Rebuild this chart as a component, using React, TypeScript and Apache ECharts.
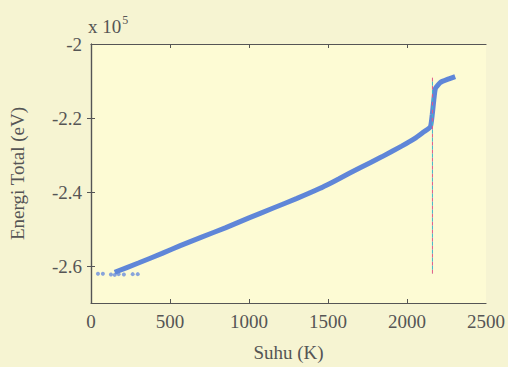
import React, { useEffect, useRef } from "react";
import * as echarts from "echarts";

const xTicks = [0, 500, 1000, 1500, 2000, 2500];
const yTickValues = [-2, -2.2, -2.4, -2.6];

// Temperature (K) and total energy (x 10^5 eV) along the main band
const suhu = [150, 300, 450, 565, 700, 850, 1000, 1150, 1300, 1450, 1570, 1700, 1840, 1966, 2050, 2104, 2148, 2160, 2170, 2180, 2211, 2260, 2305];
const energi = [-2.617, -2.592, -2.566, -2.545, -2.522, -2.497, -2.470, -2.444, -2.418, -2.390, -2.364, -2.335, -2.305, -2.276, -2.255, -2.238, -2.224, -2.190, -2.150, -2.120, -2.104, -2.095, -2.088];

// Scattered early points
const suhuAwal = [44, 75, 126, 150, 175, 208, 264, 296];
const energiAwal = [-2.621, -2.621, -2.623, -2.624, -2.622, -2.623, -2.622, -2.622];

// Vertical marker (melting point)
const suhuLeleh = 2161;
const energiGaris = [-2.091, -2.621];

export default function App() {
  const ref = useRef<HTMLDivElement>(null);
  useEffect(() => {
    document.body.style.margin = "0";
    if (!ref.current) return;
    const chart = echarts.init(ref.current, null, { renderer: "svg" });
    const font = "Liberation Serif";
    const txt = "#555555";
    const axisCommon = {
      axisLine: { show: true, lineStyle: { color: "#555", width: 1.2 } },
      splitLine: { show: false },
    };
    const tick = { show: true, inside: true, length: 4, lineStyle: { color: "#555" } };
    chart.setOption({
      animation: false,
      backgroundColor: "#f6f4d2",
      textStyle: { fontFamily: font },
      grid: { left: 90, right: 20, top: 44, bottom: 60, show: true, backgroundColor: "#fdfbd4", borderWidth: 0 },
      xAxis: [
        {
          type: "value", min: 0, max: 2500, interval: 500,
          name: "Suhu (K)", nameLocation: "middle", nameGap: 40,
          nameTextStyle: { fontFamily: font, fontSize: 19, color: txt },
          axisLabel: { fontFamily: font, fontSize: 19, color: txt, margin: 9, formatter: (v: number) => String(v) },
          axisTick: { ...tick, customValues: xTicks.slice(1, -1) },
          ...axisCommon,
        },
        {
          type: "value", min: 0, max: 2500, interval: 500, position: "top",
          axisLabel: { show: false },
          axisTick: { ...tick, customValues: xTicks.slice(1, -1) },
          ...axisCommon,
        },
      ],
      yAxis: [
        {
          type: "value", min: -2.7, max: -2,
          name: "Energi Total (eV)", nameLocation: "middle", nameGap: 64,
          nameTextStyle: { fontFamily: font, fontSize: 19, color: txt },
          axisLabel: { fontFamily: font, fontSize: 19, color: txt, margin: 9, customValues: yTickValues, formatter: (v: number) => String(v) },
          axisTick: { ...tick, customValues: yTickValues.slice(1) },
          ...axisCommon,
        },
        {
          type: "value", min: -2.7, max: -2, position: "right",
          axisLabel: { show: false },
          axisTick: { ...tick, customValues: yTickValues.slice(1) },
          ...axisCommon,
        },
      ],
      graphic: [
        {
          type: "text", left: 88, top: 14,
          style: {
            text: "{a|x 10}{b|5}",
            rich: {
              a: { fontFamily: font, fontSize: 19, fill: txt },
              b: { fontFamily: font, fontSize: 12, fill: txt, verticalAlign: "top", padding: [0, 0, 12, 1] },
            },
          },
        },
      ],
      series: [
        {
          type: "line", data: suhu.map((t, i) => [t, energi[i]]),
          showSymbol: false, smooth: 0.15,
          lineStyle: { color: "#5f86d8", width: 5 },
          z: 3,
        },
        {
          type: "scatter", data: suhuAwal.map((t, i) => [t, energiAwal[i]]),
          symbolSize: 4, itemStyle: { color: "#6a8fdc" },
        },
        {
          type: "line", data: energiGaris.map((e) => [suhuLeleh, e]),
          showSymbol: false,
          lineStyle: { color: "#e05a8a", width: 1, type: [4, 4] }, z: 4,
        },
        {
          type: "line", data: energiGaris.map((e) => [suhuLeleh, e]),
          showSymbol: false,
          lineStyle: { color: "#3fb8c8", width: 1, type: [4, 4], dashOffset: 4 }, z: 4,
        },
      ],
    });
    return () => chart.dispose();
  }, []);
  return <div ref={ref} style={{ width: 508, height: 367 }} />;
}
